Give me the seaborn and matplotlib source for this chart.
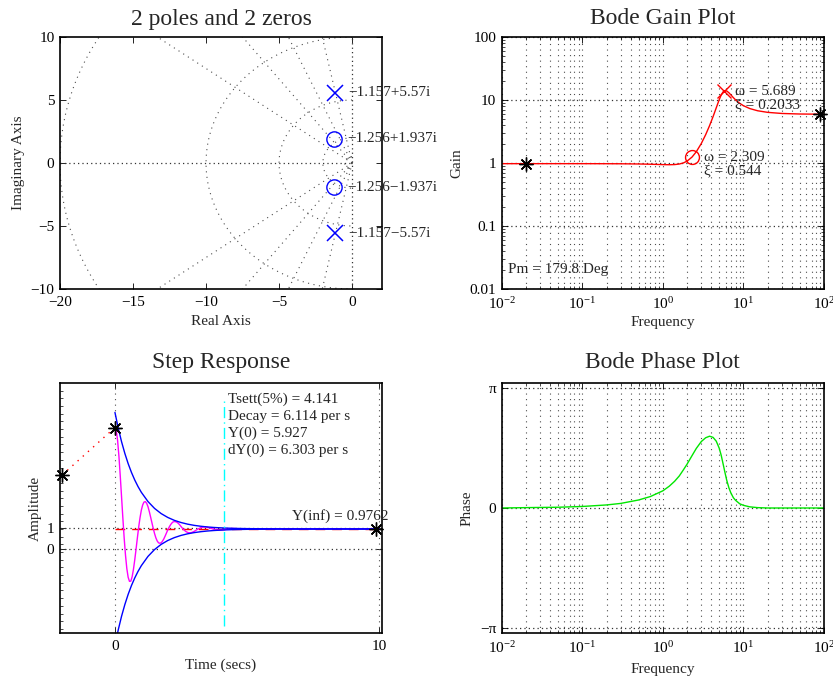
import numpy as np
import matplotlib
matplotlib.use("Agg")
import matplotlib.pyplot as plt
import seaborn as sns
from matplotlib.ticker import LogLocator, LogFormatterMathtext, NullFormatter, FixedLocator

# ---- pole / zero map ----
pole_re = [-1.157, -1.157]
pole_im = [5.57, -5.57]
pole_labels = ["\u22121.157+5.57i", "\u22121.157\u22125.57i"]
zero_re = [-1.256, -1.256]
zero_im = [1.937, -1.937]
zero_labels = ["\u22121.256+1.937i", "\u22121.256\u22121.937i"]
grid_damping = [0.2, 0.4, 0.6, 0.8]
grid_wn = [0.5, 2, 5, 10, 20]

# ---- bode ----
freq = [0.01, 0.02, 0.05, 0.1, 0.2, 0.3, 0.5, 0.7, 1.0, 1.2, 1.4, 1.6, 1.8, 2.0, 2.3, 2.6, 3.0, 3.4,
        3.8, 4.2, 4.6, 5.0, 5.3, 5.6, 5.9, 6.2, 6.6, 7.0, 7.5, 8.0, 9.0, 10, 12, 15, 20, 30, 50, 100]
gain = [0.976, 0.976, 0.976, 0.976, 0.974, 0.972, 0.965, 0.956, 0.943, 0.939, 0.944, 0.963, 1.003,
        1.072, 1.241, 1.507, 2.038, 2.817, 3.917, 5.447, 7.517, 10.086, 12.034, 13.493, 14.100,
        13.919, 13.042, 12.017, 10.899, 10.028, 8.847, 8.121, 7.311, 6.749, 6.364, 6.114, 5.993, 5.943]
phase = [0.00, 0.01, 0.02, 0.04, 0.08, 0.12, 0.21, 0.30, 0.45, 0.57, 0.70, 0.84, 1.00, 1.15, 1.37,
         1.56, 1.74, 1.84, 1.88, 1.85, 1.75, 1.57, 1.38, 1.15, 0.93, 0.73, 0.53, 0.39, 0.27, 0.20,
         0.11, 0.07, 0.03, 0.01, 0.00, 0.00, 0.00, 0.00]
pole_w, pole_xi, pole_gain = 5.689, 0.2033, 13.77
zero_w, zero_xi, zero_gain = 2.309, 0.544, 1.241
star_w = [0.02, 89]
star_g = [0.976, 5.94]
phase_margin = 179.8

# ---- step response ----
t_step = [0.00, 0.05, 0.10, 0.15, 0.20, 0.25, 0.30, 0.35, 0.40, 0.45,
          0.50, 0.55, 0.60, 0.65, 0.70, 0.75, 0.80, 0.85, 0.90, 0.95,
          1.00, 1.05, 1.10, 1.15, 1.20, 1.25, 1.30, 1.35, 1.40, 1.45,
          1.50, 1.55, 1.60, 1.65, 1.70, 1.75, 1.80, 1.85, 1.90, 1.95,
          2.00, 2.05, 2.10, 2.15, 2.20, 2.25, 2.30, 2.35, 2.40, 2.45,
          2.50, 2.55, 2.60, 2.65, 2.70, 2.75, 2.80, 2.85, 2.90, 2.95,
          3.00, 3.05, 3.10, 3.15, 3.20, 3.25, 3.30, 3.35, 3.40, 3.45,
          3.50, 3.55, 3.60, 3.65, 3.70, 3.75, 3.80, 3.85, 3.90, 3.95,
          4.00, 4.05, 4.10, 4.15, 4.20, 4.25, 4.30, 4.35, 4.40, 4.45,
          4.50, 5, 6, 7, 8, 9, 10]
y_step = [5.93, 5.79, 5.30, 4.54, 3.59, 2.55, 1.50, 0.52, -0.31, -0.96,
          -1.38, -1.58, -1.57, -1.36, -1.00, -0.53, 0.00, 0.55, 1.08, 1.53,
          1.90, 2.15, 2.29, 2.31, 2.23, 2.07, 1.83, 1.56, 1.28, 1.00,
          0.75, 0.54, 0.39, 0.30, 0.28, 0.30, 0.38, 0.49, 0.63, 0.78,
          0.93, 1.06, 1.17, 1.26, 1.32, 1.34, 1.33, 1.30, 1.25, 1.18,
          1.10, 1.02, 0.95, 0.89, 0.84, 0.81, 0.79, 0.79, 0.80, 0.83,
          0.86, 0.90, 0.94, 0.98, 1.01, 1.04, 1.06, 1.07, 1.07, 1.07,
          1.06, 1.04, 1.02, 1.00, 0.98, 0.96, 0.95, 0.93, 0.93, 0.92,
          0.93, 0.93, 0.94, 0.95, 0.96, 0.97, 0.98, 0.99, 1.00, 1.00,
          1.00, 0.96, 0.98, 0.98, 0.98, 0.98, 0.98]
t_env = [0.0, 0.125, 0.25, 0.375, 0.5, 0.625, 0.75, 0.875, 1.0, 1.25, 1.5, 1.75, 2.0, 2.25, 2.5,
         2.75, 3.0, 3.25, 3.5, 3.75, 4.0, 4.25, 4.5, 4.75, 5.0, 6, 7, 8, 9, 10]
env_up = [6.665, 5.899, 5.236, 4.663, 4.166, 3.737, 3.365, 3.043, 2.765, 2.316, 1.979, 1.727, 1.539,
          1.397, 1.292, 1.212, 1.153, 1.109, 1.075, 1.050, 1.032, 1.018, 1.007, 1.000, 0.994, 0.982,
          0.978, 0.977, 0.976, 0.976]
env_lo = [-4.713, -3.947, -3.284, -2.711, -2.214, -1.784, -1.413, -1.091, -0.813, -0.363, -0.027,
          0.225, 0.414, 0.555, 0.661, 0.740, 0.799, 0.844, 0.877, 0.902, 0.921, 0.935, 0.945, 0.953,
          0.959, 0.971, 0.974, 0.976, 0.976, 0.976]
y_inf = 0.9762
y_zero = 5.927
t_sett = 4.141
decay = 6.114
dy_zero = 6.303
pre_t, pre_y = -2.0, 3.61
end_t = 9.9
sett_span = [-3.76, 7.37]

sns.set_theme(style="white")
plt.rcParams.update({
    "font.family": ["Liberation Serif", "DejaVu Serif"],
    "mathtext.fontset": "custom",
    "mathtext.rm": "Liberation Serif",
    "mathtext.it": "Liberation Serif:italic",
    "mathtext.bf": "Liberation Serif:bold",
    "font.size": 11,
    "axes.edgecolor": "black",
    "axes.linewidth": 1.2,
    "axes.titlesize": 17,
    "axes.labelsize": 11,
    "xtick.labelsize": 11,
    "ytick.labelsize": 11,
    "xtick.color": "black",
    "ytick.color": "black",
    "xtick.direction": "in",
    "ytick.direction": "in",
    "xtick.top": True,
    "ytick.right": True,
    "xtick.bottom": True,
    "ytick.left": True,
    "xtick.major.size": 4,
    "ytick.major.size": 4,
    "xtick.minor.size": 2.5,
    "ytick.minor.size": 2.5,
    "xtick.major.width": 0.6,
    "ytick.major.width": 0.6,
    "xtick.minor.width": 0.5,
    "ytick.minor.width": 0.5,
    "xtick.major.pad": 5,
    "ytick.major.pad": 4,
    "axes.unicode_minus": True,
})

W, H = 833, 679
fig = plt.figure(figsize=(W / 100, H / 100), dpi=100, facecolor="white")


def add_axes(left, top, right, bottom):
    return fig.add_axes([left / W, 1 - bottom / H, (right - left) / W, (bottom - top) / H])


ax_pz = add_axes(60, 37, 382, 289)
ax_gain = add_axes(501.7, 37, 824, 289)
ax_step = add_axes(60, 383, 382, 633)
ax_phase = add_axes(501.7, 383, 824, 633)

grid_kw = dict(color="0.3", lw=0.8, linestyle=(0, (1, 4)))
dot_kw = dict(color="0.2", lw=0.9, linestyle=(0, (1, 2.5)))


def place_labels(ax, xl, yl, xpos, ypos):
    ax.set_xlabel(xl)
    ax.set_ylabel(yl)
    ax.xaxis.set_label_coords(0.5, xpos)
    ax.yaxis.set_label_coords(ypos, 0.5)
    ax.xaxis.label.set_va("center")
    ax.yaxis.label.set_va("center")


# 1. pole / zero map
ax = ax_pz
ax.set_xlim(-20, 2.05)
ax.set_ylim(-10, 10)
for z in grid_damping:
    r = 40
    for sgn in (1, -1):
        ax.plot([0, -r * z], [0, sgn * r * np.sqrt(1 - z ** 2)], **grid_kw)
phi = np.linspace(np.pi / 2, 3 * np.pi / 2, 241)
for wn in grid_wn:
    ax.plot(wn * np.cos(phi), wn * np.sin(phi), **grid_kw)
ax.plot([-20, 0], [0, 0], **dot_kw)
ax.axvline(0, **dot_kw)
ax.plot(pole_re, pole_im, "x", color="blue", ms=11, mew=1.1)
ax.plot(zero_re, zero_im, "o", color="blue", ms=11, mew=1.0, mfc="none")
for re, im, lab in zip(pole_re + zero_re, pole_im + zero_im, pole_labels + zero_labels):
    ax.text(re + 0.9, im, lab, va="center", ha="left", fontsize=11, clip_on=False)
ax.set_xticks([-20, -15, -10, -5, 0])
ax.set_yticks([-10, -5, 0, 5, 10])
ax.set_title("2 poles and 2 zeros", pad=9)
place_labels(ax, "Real Axis", "Imaginary Axis", -0.127, -0.13)

# 2. bode gain
ax = ax_gain
ax.set_xscale("log")
ax.set_yscale("log")
ax.set_xlim(1e-2, 1e2)
ax.set_ylim(1e-2, 1e2)
ax.xaxis.set_major_locator(LogLocator(base=10, numticks=10))
ax.xaxis.set_minor_locator(LogLocator(base=10, subs=np.arange(2, 10), numticks=20))
ax.xaxis.set_major_formatter(LogFormatterMathtext())
ax.xaxis.set_minor_formatter(NullFormatter())
ax.set_yticks([0.01, 0.1, 1, 10, 100], ["0.01", "0.1", "1", "10", "100"])
ax.yaxis.set_minor_locator(LogLocator(base=10, subs=np.arange(2, 10), numticks=20))
ax.yaxis.set_minor_formatter(NullFormatter())
ax.grid(True, which="both", axis="x", **grid_kw)
ax.grid(True, which="major", axis="y", **dot_kw)
sns.lineplot(x=freq, y=gain, ax=ax, color="red", lw=1.0, estimator=None, sort=False)
ax.plot(star_w, star_g, linestyle="none", marker=(8, 2, 0), ms=10, color="black", mew=1.0,
        clip_on=False, zorder=5)
ax.plot([pole_w], [pole_gain], "x", color="red", ms=10, mew=1.0)
ax.plot([zero_w], [zero_gain], "o", color="red", ms=10, mew=1.0, mfc="none")
ax.annotate(f"\u03c9 = {pole_w}", (pole_w, pole_gain), xytext=(8, 0), textcoords="offset points",
            va="center", fontsize=11)
ax.annotate(f"\u03be = {pole_xi}", (pole_w, pole_gain), xytext=(8, -9.5), textcoords="offset points",
            va="center", fontsize=11)
ax.annotate(f"\u03c9 = {zero_w}", (zero_w, zero_gain), xytext=(8.5, 0), textcoords="offset points",
            va="center", fontsize=11)
ax.annotate(f"\u03be = {zero_xi}", (zero_w, zero_gain), xytext=(8.5, -10), textcoords="offset points",
            va="center", fontsize=11)
ax.text(0.019, 0.079, f"Pm = {phase_margin} Deg", transform=ax.transAxes, va="center", fontsize=11)
ax.set_title("Bode Gain Plot", pad=9)
place_labels(ax, "Frequency", "Gain", -0.134, -0.139)

# 3. step response
ax = ax_step
ax.set_xlim(-2.08, 10.11)
ax.set_ylim(-4.1, 8.1)
ax.axhline(1, **dot_kw)
ax.axhline(0, **dot_kw)
ax.axvline(0, **grid_kw)
ax.axvline(10, **grid_kw)
ax.plot([pre_t, 0], [pre_y, y_zero], color="red", lw=1.0, linestyle=(0, (1, 4)))
ax.plot([0, 10], [y_inf, y_inf], color="red", lw=1.0, linestyle=(0, (7, 5)))
sns.lineplot(x=t_step, y=y_step, ax=ax, color="magenta", lw=1.0, estimator=None, sort=False)
sns.lineplot(x=t_env, y=env_up, ax=ax, color="blue", lw=1.0, estimator=None, sort=False)
sns.lineplot(x=t_env, y=env_lo, ax=ax, color="blue", lw=1.0, estimator=None, sort=False)
ax.plot([t_sett, t_sett], sett_span, color="cyan", lw=1.0, linestyle=(0, (8, 3, 1, 3)))
ax.plot([pre_t, 0, end_t], [pre_y, y_zero, y_inf], linestyle="none", marker=(8, 2, 0), ms=10,
        color="black", mew=1.0, clip_on=False, zorder=5)
info = [f"Tsett(5%) = {t_sett}", f"Decay = {decay} per s", f"Y(0) = {y_zero}", f"dY(0) = {dy_zero} per s"]
for i, line in enumerate(info):
    ax.text(4.29, 7.30 - 0.82 * i, line, va="center", ha="left", fontsize=11)
ax.text(6.69, 1.62, f"Y(inf) = {y_inf}", va="center", ha="left", fontsize=11, clip_on=False)
ax.set_xticks([0, 10])
ax.set_yticks([0, 1])
ax.yaxis.set_minor_locator(FixedLocator(np.arange(-3.9, 8.1, 0.375)))
ax.tick_params(axis="y", which="minor", right=False)
ax.set_title("Step Response", pad=11)
place_labels(ax, "Time (secs)", "Amplitude", -0.128, -0.078)

# 4. bode phase
ax = ax_phase
ax.set_xscale("log")
ax.set_xlim(1e-2, 1e2)
ax.set_ylim(-1.042 * np.pi, 1.042 * np.pi)
ax.xaxis.set_major_locator(LogLocator(base=10, numticks=10))
ax.xaxis.set_minor_locator(LogLocator(base=10, subs=np.arange(2, 10), numticks=20))
ax.xaxis.set_major_formatter(LogFormatterMathtext())
ax.xaxis.set_minor_formatter(NullFormatter())
ax.set_yticks([-np.pi, 0, np.pi], ["\u2212\u03c0", "0", "\u03c0"])
ax.grid(True, which="both", axis="x", **grid_kw)
ax.grid(True, which="major", axis="y", **dot_kw)
sns.lineplot(x=freq, y=phase, ax=ax, color="#00e600", lw=1.0, estimator=None, sort=False)
ax.set_title("Bode Phase Plot", pad=11)
place_labels(ax, "Frequency", "Phase", -0.144, -0.108)

for a in (ax_pz, ax_gain, ax_step, ax_phase):
    a.set_facecolor("white")
    for sp in a.spines.values():
        sp.set_color("black")
        sp.set_linewidth(1.2)

fig.savefig("out.png", dpi=100, facecolor="white")
